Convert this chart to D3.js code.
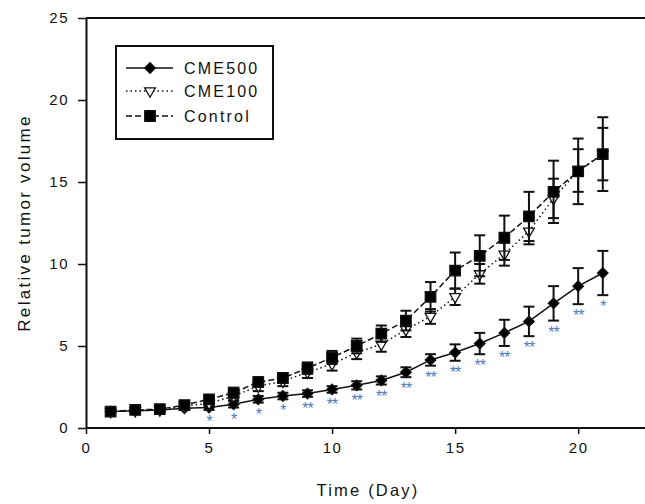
<!DOCTYPE html>
<html>
<head>
<meta charset="utf-8">
<title>Relative tumor volume</title>
<script src="https://cdn.jsdelivr.net/npm/d3@7"></script>
<style>
  body { margin: 0; background: #fff; }
  svg text { font-family: "Liberation Sans", Arial, sans-serif; fill: #111; }
</style>
</head>
<body>
<div id="chart"></div>
<script>
// values
var days = [1,2,3,4,5,6,7,8,9,10,11,12,13,14,15,16,17,18,19,20,21];
var cme500    = [1.0,1.05,1.1,1.2,1.25,1.45,1.75,1.95,2.1,2.35,2.6,2.9,3.4,4.15,4.6,5.15,5.8,6.5,7.6,8.65,9.45];
var cme500Err = [0.1,0.1,0.1,0.1,0.15,0.2,0.2,0.2,0.2,0.2,0.25,0.25,0.3,0.35,0.5,0.65,0.8,0.9,1.05,1.1,1.35];
var cme100    = [1.0,1.05,1.1,1.35,1.5,1.95,2.55,2.85,3.4,3.9,4.6,5.1,6.0,6.8,8.0,9.4,10.6,12.0,14.0,15.7,16.7];
var cme100Err = [0.1,0.1,0.1,0.15,0.2,0.25,0.3,0.3,0.35,0.4,0.4,0.45,0.45,0.45,0.5,0.6,0.7,0.8,1.2,1.3,1.6];
var control    = [1.0,1.1,1.15,1.4,1.75,2.15,2.8,3.05,3.65,4.3,5.0,5.75,6.55,8.0,9.6,10.5,11.6,12.9,14.4,15.65,16.7];
var controlErr = [0.1,0.1,0.15,0.2,0.25,0.3,0.3,0.3,0.35,0.4,0.45,0.5,0.6,0.9,1.1,1.25,1.35,1.5,1.9,2.0,2.25];
var stars = ["","","","","*","*","*","*","**","**","**","**","**","**","**","**","**","**","**","**","*"];
var xTicks = [0,5,10,15,20];
var yTicks = [0,5,10,15,20,25];
var seriesNames = ["CME500","CME100","Control"];

var W = 645, H = 504;
var svg = d3.select("#chart").append("svg").attr("width", W).attr("height", H);

var x = d3.scaleLinear().domain([0, 23]).range([86, 652]);
var y = d3.scaleLinear().domain([0, 25]).range([428, 18]);

// frame: top line
svg.append("line").attr("x1", x(0)).attr("x2", W).attr("y1", y(25)).attr("y2", y(25))
  .attr("stroke", "#111").attr("stroke-width", 2);

var yAxis = svg.append("g").attr("transform", "translate(" + x(0) + ",0)")
  .call(d3.axisLeft(y).tickValues(yTicks).tickSize(8).tickSizeOuter(0).tickPadding(9));
var xAxis = svg.append("g").attr("transform", "translate(0," + y(0) + ")")
  .call(d3.axisBottom(x).tickValues(xTicks).tickSize(6).tickSizeOuter(0).tickPadding(8));
[xAxis, yAxis].forEach(function(a) {
  a.select(".domain").attr("stroke", "#111").attr("stroke-width", 2);
  a.selectAll(".tick line").attr("stroke", "#111").attr("stroke-width", 1.5);
  a.selectAll(".tick text").style("font-size", "15px").style("letter-spacing", "1.5px")
    .style("font-family", "'Liberation Sans', Arial, sans-serif").attr("fill", "#111");
});
xAxis.select(".domain").attr("d", "M" + x(0) + ",0H" + W);

svg.append("text").attr("x", 368).attr("y", 496).attr("text-anchor", "middle")
  .style("font-size", "16.5px").style("letter-spacing", "2.2px").text("Time (Day)");
svg.append("text").attr("transform", "translate(30,223) rotate(-90)").attr("text-anchor", "middle")
  .style("font-size", "17px").style("letter-spacing", "2.3px").text("Relative tumor volume");

var series = [
  {name: seriesNames[0], vals: cme500, err: cme500Err, dash: null, sym: d3.symbolDiamond2, size: 70, fill: "#000"},
  {name: seriesNames[1], vals: cme100, err: cme100Err, dash: "1.5,3", sym: d3.symbolTriangle, size: 50, fill: "#fff"},
  {name: seriesNames[2], vals: control, err: controlErr, dash: "6,3", sym: d3.symbolSquare, size: 110, fill: "#000"}
];

var line = d3.line().x(function(d) { return x(d[0]); }).y(function(d) { return y(d[1]); });

series.forEach(function(s) {
  var pts = days.map(function(d, i) { return [d, s.vals[i], s.err[i]]; });
  var g = svg.append("g");
  g.append("path").datum(pts).attr("d", line).attr("fill", "none")
    .attr("stroke", "#111").attr("stroke-width", 1.5).attr("stroke-dasharray", s.dash);
  var eb = g.selectAll(".eb").data(pts).enter().append("g");
  eb.append("line").attr("x1", function(d) { return x(d[0]); }).attr("x2", function(d) { return x(d[0]); })
    .attr("y1", function(d) { return y(d[1] + d[2]); }).attr("y2", function(d) { return y(d[1] - d[2]); })
    .attr("stroke", "#111").attr("stroke-width", 2);
  [1, -1].forEach(function(sg) {
    eb.append("line").attr("x1", function(d) { return x(d[0]) - 5.5; }).attr("x2", function(d) { return x(d[0]) + 5.5; })
      .attr("y1", function(d) { return y(d[1] + sg * d[2]); }).attr("y2", function(d) { return y(d[1] + sg * d[2]); })
      .attr("stroke", "#111").attr("stroke-width", 2);
  });
  g.selectAll(".m").data(pts).enter().append("path")
    .attr("d", d3.symbol().type(s.sym).size(s.size))
    .attr("transform", function(d) {
      return "translate(" + x(d[0]) + "," + y(d[1]) + ")" + (s.sym === d3.symbolTriangle ? " rotate(180)" : "");
    })
    .attr("fill", s.fill).attr("stroke", "#111").attr("stroke-width", 1.3);
});

// significance stars under CME500
svg.selectAll(".star").data(days).enter().append("text")
  .attr("x", function(d) { return x(d); })
  .attr("y", function(d, i) { return y(cme500[i] - cme500Err[i]) + 17; })
  .attr("text-anchor", "middle").style("font-size", "16px").style("letter-spacing", "-1px")
  .style("fill", "#4f7bbd").text(function(d, i) { return stars[i]; });

// legend
var lg = svg.append("g");
lg.append("rect").attr("x", 116).attr("y", 46).attr("width", 157).attr("height", 93)
  .attr("fill", "#fff").attr("stroke", "#111").attr("stroke-width", 2);
var rowY = [68, 91, 116];
series.forEach(function(s, i) {
  lg.append("line").attr("x1", 126).attr("x2", 173).attr("y1", rowY[i]).attr("y2", rowY[i])
    .attr("stroke", "#111").attr("stroke-width", 1.5).attr("stroke-dasharray", s.dash);
  lg.append("path").attr("d", d3.symbol().type(s.sym).size(s.size))
    .attr("transform", "translate(150," + rowY[i] + ")" + (s.sym === d3.symbolTriangle ? " rotate(180)" : ""))
    .attr("fill", s.fill).attr("stroke", "#111").attr("stroke-width", 1.3);
  lg.append("text").attr("x", 184).attr("y", rowY[i] + 6)
    .style("font-size", "16px").style("letter-spacing", "2.2px").text(s.name);
});
</script>
</body>
</html>
